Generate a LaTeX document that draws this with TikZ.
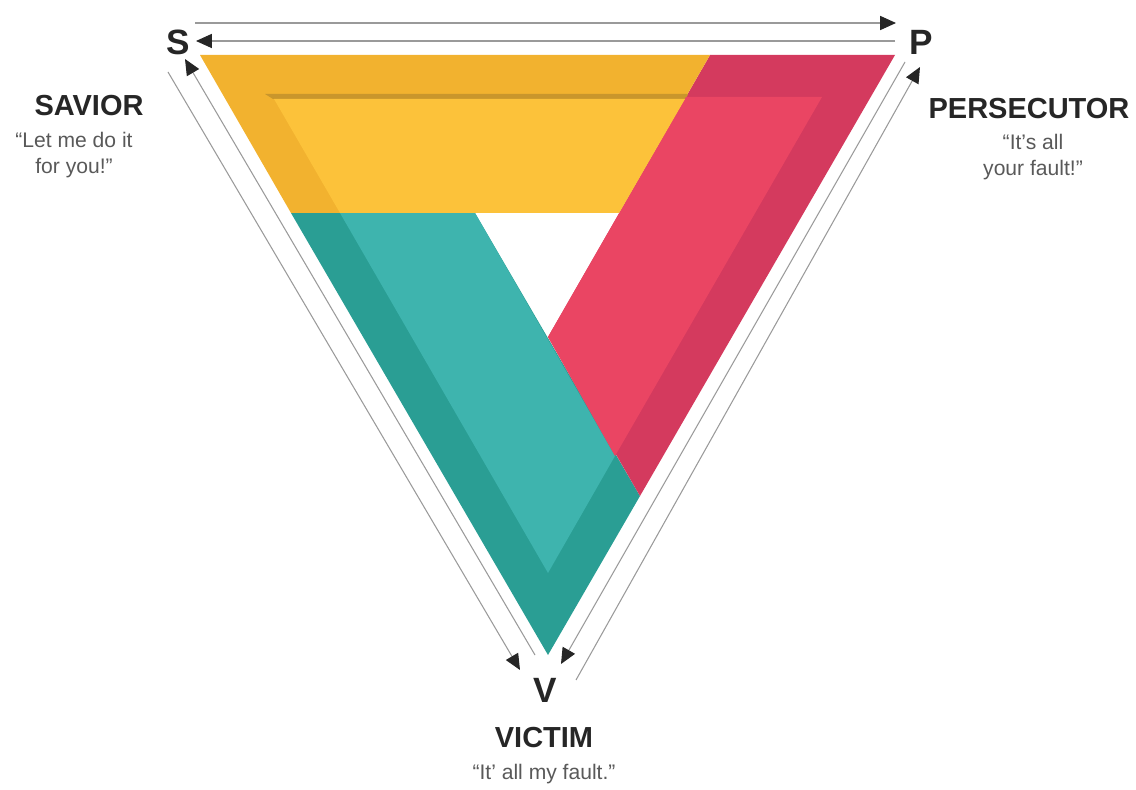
\documentclass[tikz,border=0pt]{standalone}
\usepackage{fontspec}
\setmainfont{Liberation Sans}
\usetikzlibrary{arrows.meta}
\definecolor{yelrim}{HTML}{F2B22F}
\definecolor{yellight}{HTML}{FCC23A}
\definecolor{yelshade}{HTML}{C9962C}
\definecolor{redrim}{HTML}{D43A5E}
\definecolor{redlight}{HTML}{EA4563}
\definecolor{tealrim}{HTML}{2A9E94}
\definecolor{teallight}{HTML}{3EB4AE}
\definecolor{linegray}{HTML}{9A9A9A}

\begin{document}
\begin{tikzpicture}[x=0.02cm,y=-0.02cm,>={Triangle[length=9pt,width=8pt]},
    link/.style={draw=linegray,line width=0.6pt,arrows={-{Triangle[length=9pt,width=8pt,color=black!85]}}},
    corner/.style={font=\bfseries\fontsize{20}{20}\selectfont,text=black!85},
    role/.style={font=\bfseries\fontsize{16.5}{18}\selectfont,text=black!85},
    saying/.style={font=\fontsize{12}{15}\selectfont,text=black!65,align=center}]
  \useasboundingbox (0,0) rectangle (1136,790);

  % the three bands, darker rims first
  \fill[tealrim] (291,213) -- (475,213) -- (640,496) -- (548,655) -- cycle;
  \fill[redrim] (710,55) -- (895,55) -- (640,496) -- (548,337) -- cycle;
  \fill[yelrim] (200,55) -- (710,55) -- (619,213) -- (291,213) -- cycle;
  \fill[yelshade] (265,94) -- (688,94) -- (686,99) -- (273,99) -- cycle;

  % lighter faces inside
  \fill[teallight] (340,213) -- (475,213) -- (615,456) -- (548,573) -- cycle;
  \fill[redlight] (686,97) -- (822,97) -- (615,456) -- (548,337) -- cycle;
  \fill[yellight] (274,99) -- (685,99) -- (619,213) -- (340,213) -- cycle;

  % corners and roles
  \node[corner] (s) at (178,42) {S};
  \node[corner] (p) at (921,42) {P};
  \node[corner] (v) at (545,690) {V};
  \node[role] (savior) at (89,106) {SAVIOR};
  \node[saying] (saviorq) at (74,155) {“Let me do it\\for you!”};
  \node[role] (persecutor) at (1029,109) {PERSECUTOR};
  \node[saying] (persecutorq) at (1033,157) {“It’s all\\your fault!”};
  \node[role] (victim) at (544,738) {VICTIM};
  \node[saying] (victimq) at (544,774) {“It’ all my fault.”};

  % ends of the arrows
  \coordinate (sp1) at (195,23);
  \coordinate (sp2) at (896,23);
  \coordinate (ps1) at (895,41);
  \coordinate (ps2) at (196,41);
  \coordinate (vs1) at (535,655);
  \coordinate (vs2) at (185,59);
  \coordinate (sv1) at (168,72);
  \coordinate (sv2) at (520,670);
  \coordinate (pv1) at (905,62);
  \coordinate (pv2) at (561,664);
  \coordinate (vp1) at (576,680);
  \coordinate (vp2) at (920,67);

  \foreach \a/\b in {sp1/sp2,ps1/ps2,vs1/vs2,sv1/sv2,pv1/pv2,vp1/vp2}
    \draw[link] (\a) -- (\b);
\end{tikzpicture}
\end{document}
